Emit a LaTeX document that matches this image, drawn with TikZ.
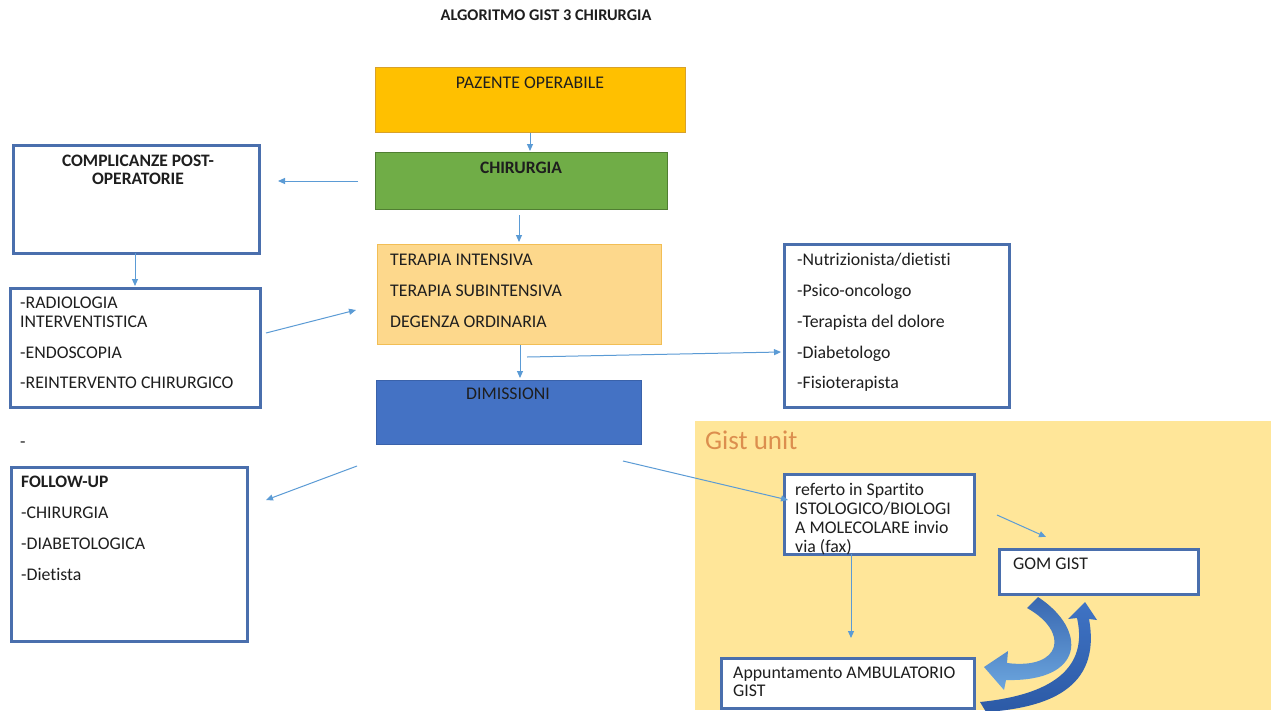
\documentclass[tikz,border=0pt]{standalone}
\usepackage{fontspec}
\setmainfont{Carlito}[Ligatures=NoCommon]
\usetikzlibrary{arrows.meta}
\definecolor{ink}{HTML}{1E1E1E}
\definecolor{boxblue}{HTML}{4A6FAD}
\definecolor{arrowblue}{HTML}{5B9BD5}
\definecolor{gold}{HTML}{FFC000}
\definecolor{goldedge}{HTML}{D8A12A}
\definecolor{leaf}{HTML}{70AD47}
\definecolor{leafedge}{HTML}{507E32}
\definecolor{peach}{HTML}{FDD88C}
\definecolor{peachedge}{HTML}{F2BE55}
\definecolor{royal}{HTML}{4472C4}
\definecolor{royaledge}{HTML}{3A62AA}
\definecolor{unitbg}{HTML}{FFE699}
\definecolor{unittext}{HTML}{DC8E4E}
\definecolor{curvedark}{HTML}{2C5AA6}
\definecolor{curvemid}{HTML}{3F73C4}
\definecolor{curvelight}{HTML}{6CA6DE}
\begin{document}
\begin{tikzpicture}[x=1pt,y=-1pt,
  outbox/.style={draw=boxblue,line width=2.6pt,fill=white,anchor=north west,inner sep=0pt},
  solidbox/.style={line width=0.8pt,anchor=north west,inner sep=0pt},
  flow/.style={draw=arrowblue,line width=1pt,-{Triangle[length=7pt,width=6pt]}},
  txt/.style={anchor=base west,inner sep=0pt,text=ink,font=\fontsize{17.8}{20}\selectfont},
  ctxt/.style={anchor=base,inner sep=0pt,text=ink,font=\fontsize{17.8}{20}\selectfont},
  btxt/.style={anchor=base,inner sep=0pt,text=ink,font=\fontsize{17.5}{20}\selectfont\bfseries}]
\useasboundingbox (0,0) rectangle (1271,710);
\fill[white] (0,0) rectangle (1271,710);

% title
\node[btxt,font=\fontsize{16.3}{18}\selectfont\bfseries] (title) at (546,20) {ALGORITMO GIST 3 CHIRURGIA};

% Gist unit area
\node[fill=unitbg,anchor=north west,inner sep=0pt,minimum width=576,minimum height=289] (unit) at (695,421) {};
\node[anchor=base west,inner sep=0pt,text=unittext,font=\fontsize{27}{30}\selectfont] (unitlbl) at (705,449) {Gist unit};

% main column
\node[solidbox,draw=goldedge,fill=gold,minimum width=310,minimum height=65] (paz) at (375,67) {};
\node[ctxt] (pazt) at (530,88) {PAZENTE OPERABILE};
\node[solidbox,draw=leafedge,fill=leaf,minimum width=292,minimum height=57] (chir) at (375,152) {};
\node[btxt] (chirt) at (521,173) {CHIRURGIA};
\node[solidbox,draw=peachedge,fill=peach,minimum width=284,minimum height=100] (ter) at (377,244) {};
\node[txt] (ter1) at (390,265) {TERAPIA INTENSIVA};
\node[txt] (ter2) at (390,296) {TERAPIA SUBINTENSIVA};
\node[txt] (ter3) at (390,327) {DEGENZA ORDINARIA};
\node[solidbox,draw=royaledge,fill=royal,minimum width=265,minimum height=64] (dim) at (376,380) {};
\node[ctxt] (dimt) at (508,399) {DIMISSIONI};

% left column
\node[outbox,minimum width=246,minimum height=108] (compl) at (12,144) {};
\node[btxt] (compl1) at (138,166) {COMPLICANZE POST-};
\node[btxt] (compl2) at (138,184) {OPERATORIE};
\node[outbox,minimum width=250,minimum height=119] (radio) at (9,287) {};
\node[txt] (radio1) at (20,308) {-RADIOLOGIA};
\node[txt] (radio2) at (20,327) {INTERVENTISTICA};
\node[txt] (radio3) at (20,358) {-ENDOSCOPIA};
\node[txt] (radio4) at (20,388) {-REINTERVENTO CHIRURGICO};
\node[txt] (dash) at (20,447) {-};
\node[outbox,minimum width=236,minimum height=174] (fu) at (10,466) {};
\node[txt,font=\fontsize{17.5}{20}\selectfont\bfseries] (fu1) at (21,487) {FOLLOW-UP};
\node[txt] (fu2) at (21,518) {-CHIRURGIA};
\node[txt] (fu3) at (21,549) {-DIABETOLOGICA};
\node[txt] (fu4) at (21,580) {-Dietista};

% specialists
\node[outbox,minimum width=225,minimum height=163] (spec) at (783,243) {};
\node[txt] (spec1) at (797,265) {-Nutrizionista/dietisti};
\node[txt] (spec2) at (797,296) {-Psico-oncologo};
\node[txt] (spec3) at (797,327) {-Terapista del dolore};
\node[txt] (spec4) at (797,358) {-Diabetologo};
\node[txt] (spec5) at (797,388) {-Fisioterapista};

% Gist unit boxes
\node[outbox,minimum width=190,minimum height=80] (ref) at (783,473) {};
\node[txt] (ref1) at (795,495) {referto in Spartito};
\node[txt] (ref2) at (795,514) {ISTOLOGICO/BIOLOGI};
\node[txt] (ref3) at (795,533) {A MOLECOLARE invio};
\node[txt] (ref4) at (795,552) {via (fax)};
\node[outbox,minimum width=199,minimum height=45] (gom) at (998,548) {};
\node[txt] (gomt) at (1013,569) {GOM GIST};
\node[outbox,minimum width=253,minimum height=50] (app) at (720,657) {};
\node[txt] (app1) at (733,678) {Appuntamento AMBULATORIO};
\node[txt] (app2) at (733,696) {GIST};

% connector ends
\coordinate (a1s) at (530,133);  \coordinate (a1e) at (530,151);
\coordinate (a2s) at (358,181);  \coordinate (a2e) at (278,181);
\coordinate (a3s) at (519,215);  \coordinate (a3e) at (519,242);
\coordinate (a4s) at (135,253);  \coordinate (a4e) at (135,286);
\coordinate (a5s) at (266,333);  \coordinate (a5e) at (356,310);
\coordinate (a6s) at (520,345);  \coordinate (a6e) at (520,378);
\coordinate (a7s) at (527,357);  \coordinate (a7e) at (781,352);
\coordinate (a8s) at (357,466);  \coordinate (a8e) at (266,500);
\coordinate (a9s) at (623,461);  \coordinate (a9e) at (788,500);
\coordinate (a10s) at (997,515); \coordinate (a10e) at (1046,537);
\coordinate (a11s) at (851,554); \coordinate (a11e) at (851,638);
\draw[flow] (a1s) -- (a1e);
\draw[flow] (a2s) -- (a2e);
\draw[flow] (a3s) -- (a3e);
\draw[flow] (a4s) -- (a4e);
\draw[flow] (a5s) -- (a5e);
\draw[flow] (a6s) -- (a6e);
\draw[flow] (a7s) -- (a7e);
\draw[flow] (a8s) -- (a8e);
\draw[flow] (a9s) -- (a9e);
\draw[flow] (a10s) -- (a10e);
\draw[flow] (a11s) -- (a11e);

% curved block arrows between GOM GIST and the appointment
\shade[top color=curvemid,bottom color=curvedark]
  (980,702) .. controls (1040,696) and (1090,675) .. (1077,618)
  -- (1068,619) -- (1085,602) -- (1097,620) -- (1089,619)
  .. controls (1102,690) and (1045,708) .. (986,712) -- cycle;
\shade[top color=curvemid!90!black,bottom color=curvelight]
  (1027,608) -- (1038,597)
  .. controls (1088,630) and (1085,682) .. (1006,680)
  -- (1004,690) -- (984,667) -- (1008,651) -- (1007,663)
  .. controls (1062,670) and (1070,632) .. cycle;
\end{tikzpicture}
\end{document}
